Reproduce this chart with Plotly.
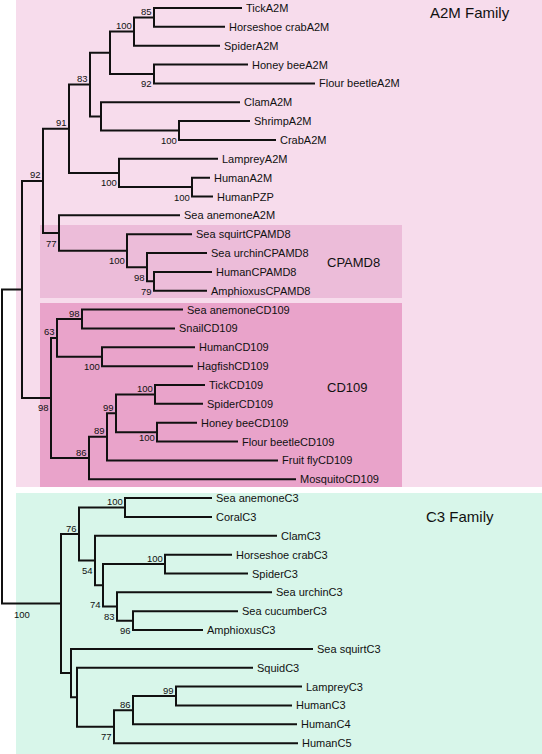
import plotly.graph_objects as go

# ---------------- data ----------------
# internal nodes: id, parent, branch length, bootstrap support
node_id = ["root", "A", "n92", "n91", "n83", "n110", "n100a", "n85", "n92b", "nclam",
           "n100b", "n100c", "n100d", "n77", "n100e", "n98", "n79", "n98c", "n63", "n98d",
           "n100f", "n86", "n89", "n99", "n100g", "n100h", "C", "n76", "n100i", "n54",
           "n74", "n100j", "n83b", "n96", "n71", "n77b", "n77c", "n86b", "n99b"]
node_parent = [None, "root", "A", "n92", "n91", "n83", "n110", "n100a", "n110", "n83",
               "nclam", "n91", "n100c", "n92", "n77", "n100e", "n98", "A", "n98c", "n63",
               "n63", "n98c", "n86", "n89", "n99", "n99", "root", "C", "n76", "n76",
               "n54", "n74", "n74", "n83b", "C", "n71", "n77b", "n77c", "n86b"]
node_length = [0.0, 0.20, 0.21, 0.26, 0.21, 0.20, 0.24, 0.20, 0.44, 0.11,
               0.78, 0.50, 0.73, 0.16, 0.68, 0.20, 0.07, 0.29, 0.06, 0.25,
               0.45, 0.38, 0.18, 0.09, 0.39, 0.41, 0.59, 0.18, 0.46, 0.16,
               0.08, 0.62, 0.14, 0.16, 0.10, 0.06, 0.37, 0.19, 0.43]
node_support = [None, None, 92, 91, 83, None, 100, 85, 92, None,
                100, 100, 100, 77, 100, 98, 79, 98, 63, 98,
                100, 86, 89, 99, 100, 100, 100, 76, 100, 54,
                74, 100, 83, 96, None, None, 77, 86, 99]

# leaves (top to bottom): name, parent, branch length
leaf_names = ["TickA2M", "Horseshoe crabA2M", "SpiderA2M", "Honey beeA2M", "Flour beetleA2M",
              "ClamA2M", "ShrimpA2M", "CrabA2M", "LampreyA2M", "HumanA2M", "HumanPZP",
              "Sea anemoneA2M", "Sea squirtCPAMD8", "Sea urchinCPAMD8", "HumanCPAMD8",
              "AmphioxusCPAMD8", "Sea anemoneCD109", "SnailCD109", "HumanCD109", "HagfishCD109",
              "TickCD109", "SpiderCD109", "Honey beeCD109", "Flour beetleCD109", "Fruit flyCD109",
              "MosquitoCD109", "Sea anemoneC3", "CoralC3", "ClamC3", "Horseshoe crabC3",
              "SpiderC3", "Sea urchinC3", "Sea cucumberC3", "AmphioxusC3", "Sea squirtC3",
              "SquidC3", "LampreyC3", "HumanC3", "HumanC4", "HumanC5"]
leaf_parent = ["n85", "n85", "n100a", "n92b", "n92b", "nclam", "n100b", "n100b", "n100c", "n100d",
               "n100d", "n77", "n100e", "n98", "n79", "n79", "n98d", "n98d", "n100f", "n100f",
               "n100g", "n100g", "n100h", "n100h", "n89", "n86", "n100i", "n100i", "n54", "n100j",
               "n100j", "n83b", "n96", "n96", "n71", "n77b", "n99b", "n99b", "n86b", "n77c"]
leaf_length = [0.88, 0.71, 0.86, 0.94, 1.61, 1.39, 0.71, 0.97, 0.99, 0.18,
               0.21, 1.21, 0.65, 0.60, 0.58, 0.53, 1.01, 0.93, 0.93, 0.91,
               0.50, 0.48, 0.40, 0.81, 1.71, 2.07, 0.87, 0.87, 1.82, 0.67,
               0.83, 1.55, 1.05, 0.70, 2.42, 1.76, 1.26, 1.16, 1.64, 1.84]

clade_names = ["A2M Family", "CPAMD8", "CD109", "C3 Family"]

# ---------------- layout helpers (pixels) ----------------
W, H = 542, 754
Y0, DY = 8.0, 18.85          # pixel y of first leaf, spacing
X0, SX = 2.0, 100.0          # pixel x of root, pixels per unit


def py(p):  # pixel y -> data y
    return (p - Y0) / DY


def px(p):  # pixel x -> data x
    return (p - X0) / SX


# ---------------- tree geometry ----------------
depth = {}
for nid, par, bl in zip(node_id, node_parent, node_length):
    depth[nid] = bl if par is None else depth[par] + bl
children = {nid: [] for nid in node_id}
pos = {}
for i, (nm, par, bl) in enumerate(zip(leaf_names, leaf_parent, leaf_length)):
    pos[nm] = (depth[par] + bl, float(i))
    children[par].append(nm)
for nid, par in zip(node_id, node_parent):
    if par is not None:
        children[par].append(nid)
for nid in reversed(node_id):
    ys = [pos[c][1] for c in children[nid]]
    pos[nid] = (depth[nid], (min(ys) + max(ys)) / 2)

xs, ys = [], []
for nid in node_id:
    nx, _ = pos[nid]
    kids = sorted(children[nid], key=lambda c: pos[c][1])
    first, last = kids[0], kids[-1]
    xs += [pos[first][0], nx, nx, pos[last][0], None]
    ys += [pos[first][1], pos[first][1], pos[last][1], pos[last][1], None]
    for k in kids[1:-1]:
        xs += [nx, pos[k][0], None]
        ys += [pos[k][1], pos[k][1], None]

fig = go.Figure()
fig.add_trace(go.Scatter(x=xs, y=ys, mode="lines",
                         line=dict(color="#111111", width=2),
                         hoverinfo="skip", showlegend=False))

FONT = "Liberation Sans, Arial, Helvetica, sans-serif"
ann = []
for nm in leaf_names:
    x, y = pos[nm]
    ann.append(dict(x=x, y=y, text=nm, showarrow=False, xanchor="left", yanchor="middle",
                    xshift=3, borderpad=0, font=dict(family=FONT, size=11, color="#111111")))

# support label placement (pixel offsets): above / below node
below = {"n92b", "n100b", "n100c", "n100d", "n77", "n100e", "n98", "n79", "n100f", "n98c",
         "n100h", "n54", "n74", "n83b", "n96", "n77c", "C"}
special = {"n100h": (0, 5), "n74": (0, 19), "C": (-29, 11)}
for nid, sup in zip(node_id, node_support):
    if sup is None:
        continue
    x, y = pos[nid]
    dx, dy = special.get(nid, (0, 10 if nid in below else -6))
    ann.append(dict(x=x, y=y, text=str(sup), showarrow=False, xanchor="right", yanchor="middle",
                    xshift=-1 + dx, yshift=-dy, borderpad=0,
                    font=dict(family=FONT, size=9.5, color="#111111")))

# clade box labels
clade_label_px = [(470, 12, 15), (353, 262, 13), (347, 387, 13), (460, 516, 15)]
for name, (lx, ly, fs) in zip(clade_names, clade_label_px):
    ann.append(dict(x=px(lx), y=py(ly), text=name, showarrow=False, xanchor="center",
                    yanchor="middle", borderpad=0, font=dict(family=FONT, size=fs, color="#111111")))

box_px = [(16, 0, 542, 487, "#f7dcec"), (40, 225, 402, 298, "#ecbcd9"),
          (40, 303, 402, 487, "#e9a3ca"), (16, 493, 542, 754, "#d8f6ea")]
shapes = []
for x0, y0, x1, y1, col in box_px:
    shapes.append(dict(type="rect", xref="x", yref="y", x0=px(x0), x1=px(x1), y0=py(y0), y1=py(y1),
                       fillcolor=col, line=dict(width=0), layer="below"))

fig.update_layout(width=W, height=H, margin=dict(l=0, r=0, t=0, b=0),
                  paper_bgcolor="white", plot_bgcolor="white",
                  xaxis=dict(visible=False, range=[px(0), px(W)], fixedrange=True),
                  yaxis=dict(visible=False, range=[py(H), py(0)], fixedrange=True),
                  shapes=shapes, annotations=ann, showlegend=False)
fig.write_html("out.html", config={"displayModeBar": False},
               post_script="document.body.style.margin='0';document.body.style.padding='0';"
                           "document.body.style.overflow='hidden';")
